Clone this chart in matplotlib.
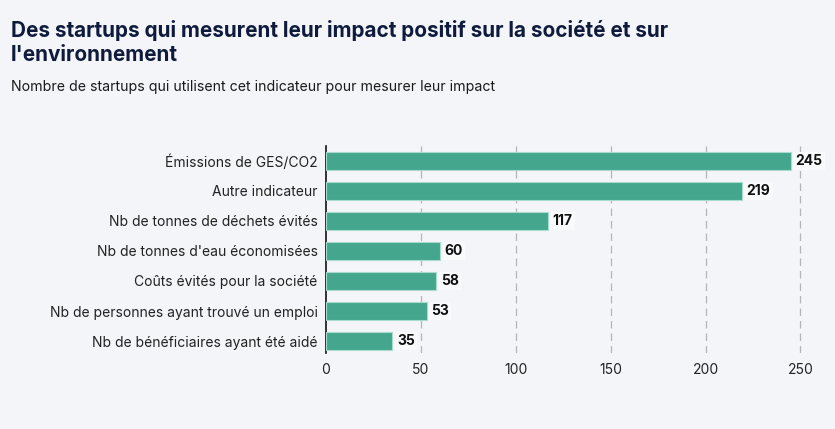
import matplotlib.pyplot as plt

categories = [
    "Émissions de GES/CO2",
    "Autre indicateur",
    "Nb de tonnes de déchets évités",
    "Nb de tonnes d'eau économisées",
    "Coûts évités pour la société",
    "Nb de personnes ayant trouvé un emploi",
    "Nb de bénéficiaires ayant été aidé",
]
values = [245, 219, 117, 60, 58, 53, 35]
xticks = [0, 50, 100, 150, 200, 250]

bg = "#f4f5f9"
bar_color = "#44a68c"

plt.rcParams['font.family'] = ['Inter', 'DejaVu Sans']

fig = plt.figure(figsize=(8.35, 4.29), dpi=100, facecolor=bg)
ax = fig.add_axes([0.3904, 0.177, 0.591, 0.483], facecolor=bg)

pos = list(range(len(categories)))
ax.barh(pos, values, height=0.58, color=bar_color, edgecolor="#a9dccd", linewidth=0.8, zorder=3)
for p, v in zip(pos, values):
    ax.text(v + 2.5, p, str(v), va="center", ha="left", fontsize=10, fontweight="bold",
            color="#111111", zorder=4,
            bbox=dict(boxstyle="square,pad=0.15", facecolor="#f9fafc", edgecolor="none"))

ax.set_yticks(pos)
ax.set_yticklabels(categories, fontsize=10, color="#222222")
ax.set_xticks(xticks)
ax.set_xticklabels([str(t) for t in xticks], fontsize=10, color="#222222")
ax.set_xlim(0, 260)
ax.set_ylim(6.4, -0.5)

for t in xticks[1:]:
    ax.axvline(t, color="#b5b5b5", linestyle=(0, (6, 4)), linewidth=0.9, zorder=1)

for s in ["top", "right", "bottom"]:
    ax.spines[s].set_visible(False)
ax.spines["left"].set_color("#111111")
ax.spines["left"].set_linewidth(1.2)
ax.tick_params(axis="both", length=0)
ax.tick_params(axis="y", pad=6)
ax.tick_params(axis="x", pad=7)

fig.text(0.013, 0.902, "Des startups qui mesurent leur impact positif sur la société et sur\nl'environnement",
         fontsize=14.9, fontweight="bold", color="#0f1b3d", va="center", ha="left", linespacing=1.25)
fig.text(0.013, 0.797, "Nombre de startups qui utilisent cet indicateur pour mesurer leur impact",
         fontsize=10.2, color="#1a1a1a", va="center", ha="left")

fig.savefig("out.png", dpi=100, facecolor=bg)
